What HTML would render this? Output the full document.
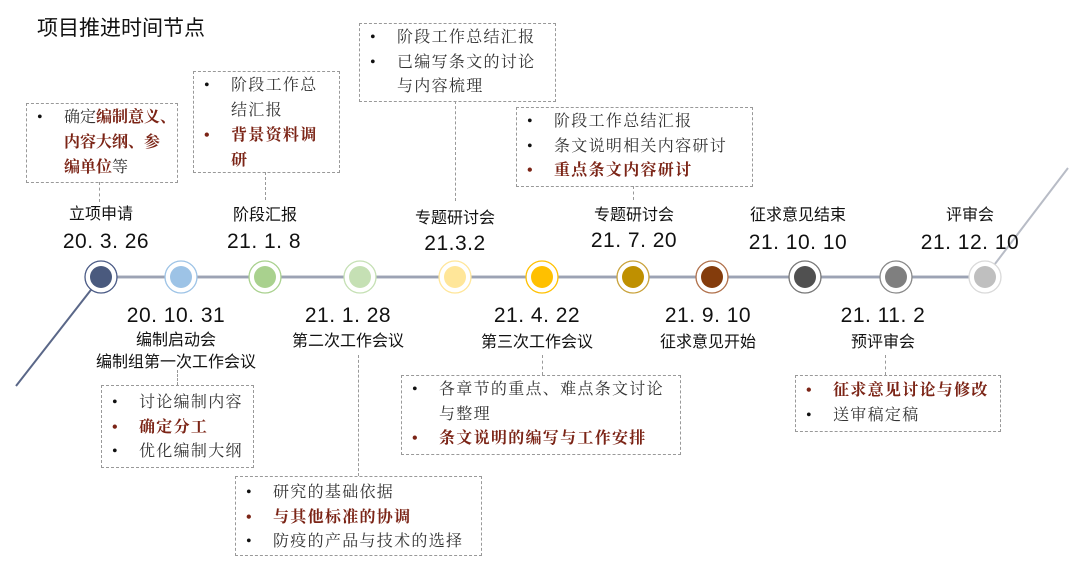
<!DOCTYPE html>
<html><head><meta charset="utf-8"><style>
body{margin:0;width:1080px;height:569px;background:#fff;position:relative;overflow:hidden;font-family:"Liberation Sans","Noto Sans CJK SC",sans-serif;color:#111}
.a{position:absolute}
.lbl{position:absolute;font-size:16px;text-align:center;width:200px;margin-left:-100px;white-space:nowrap;line-height:22px}
.dt{position:absolute;font-size:21px;text-align:center;width:200px;margin-left:-100px;white-space:nowrap;letter-spacing:0.5px}
.box{position:absolute;border:1px dashed #999;font-family:"Liberation Serif","Noto Serif CJK SC",serif;font-size:16px;letter-spacing:1.3px;line-height:24.5px;color:#333;box-sizing:border-box;padding:2px 0 0 37px;white-space:nowrap}
.box p{margin:0;position:relative}
.box p:before{content:"•";position:absolute;left:-27px;color:#111}
.box p.r{color:#7b2416;font-weight:bold}
.box p.r:before{color:#7b2416}
.r2{color:#7b2416;font-weight:bold}
.vl{position:absolute;width:0;border-left:1px dashed #999}
</style></head><body>
<div class="a" style="left:37px;top:12px;font-size:21px;">项目推进时间节点</div>

<svg class="a" style="left:0;top:0" width="1080" height="569">
<line x1="101" y1="277" x2="985" y2="277" stroke="#d3d6dd" stroke-width="4"/>
<line x1="101" y1="277" x2="985" y2="277" stroke="#8a92a6" stroke-width="1.5"/>
<line x1="101" y1="277" x2="16" y2="386" stroke="#5a6788" stroke-width="2"/>
<line x1="985" y1="277" x2="1068" y2="168" stroke="#b8bcc6" stroke-width="2"/>
<g stroke-width="1.3" fill="#fff">
<circle cx="101" cy="277" r="16" stroke="#4a5a85"/><circle cx="101" cy="277" r="11" fill="#4a5a7e" stroke="none"/>
<circle cx="181" cy="277" r="16" stroke="#9dc3e6"/><circle cx="181" cy="277" r="11" fill="#9dc3e6" stroke="none"/>
<circle cx="265" cy="277" r="16" stroke="#a9d18e"/><circle cx="265" cy="277" r="11" fill="#a9d18e" stroke="none"/>
<circle cx="360" cy="277" r="16" stroke="#c5e0b4"/><circle cx="360" cy="277" r="11" fill="#c5e0b4" stroke="none"/>
<circle cx="455" cy="277" r="16" stroke="#ffe699"/><circle cx="455" cy="277" r="11" fill="#ffe699" stroke="none"/>
<circle cx="542" cy="277" r="16" stroke="#ffc000"/><circle cx="542" cy="277" r="11" fill="#ffc000" stroke="none"/>
<circle cx="633" cy="277" r="16" stroke="#c9a23a"/><circle cx="633" cy="277" r="11" fill="#bf9000" stroke="none"/>
<circle cx="712" cy="277" r="16" stroke="#b0704a"/><circle cx="712" cy="277" r="11" fill="#843c0c" stroke="none"/>
<circle cx="805" cy="277" r="16" stroke="#777"/><circle cx="805" cy="277" r="11" fill="#505050" stroke="none"/>
<circle cx="896" cy="277" r="16" stroke="#888"/><circle cx="896" cy="277" r="11" fill="#7f7f7f" stroke="none"/>
<circle cx="985" cy="277" r="16" stroke="#d9d9d9"/><circle cx="985" cy="277" r="11" fill="#bfbfbf" stroke="none"/>
</g>
</svg>

<div class="lbl" style="left:101px;top:204px">立项申请</div><div class="dt" style="left:106px;top:230px">20. 3. 26</div>
<div class="lbl" style="left:265px;top:205px">阶段汇报</div><div class="dt" style="left:264px;top:230px">21. 1. 8</div>
<div class="lbl" style="left:455px;top:208px">专题研讨会</div><div class="dt" style="left:455px;top:232px">21.3.2</div>
<div class="lbl" style="left:634px;top:205px">专题研讨会</div><div class="dt" style="left:634px;top:229px">21. 7. 20</div>
<div class="lbl" style="left:798px;top:205px">征求意见结束</div><div class="dt" style="left:798px;top:231px">21. 10. 10</div>
<div class="lbl" style="left:970px;top:205px">评审会</div><div class="dt" style="left:970px;top:231px">21. 12. 10</div>

<div class="dt" style="left:176px;top:304px">20. 10. 31</div><div class="lbl" style="left:176px;top:330px">编制启动会<br>编制组第一次工作会议</div>
<div class="dt" style="left:348px;top:304px">21. 1. 28</div><div class="lbl" style="left:348px;top:331px">第二次工作会议</div>
<div class="dt" style="left:537px;top:304px">21. 4. 22</div><div class="lbl" style="left:537px;top:332px">第三次工作会议</div>
<div class="dt" style="left:708px;top:304px">21. 9. 10</div><div class="lbl" style="left:708px;top:332px">征求意见开始</div>
<div class="dt" style="left:883px;top:304px">21. 11. 2</div><div class="lbl" style="left:883px;top:332px">预评审会</div>

<div class="vl" style="left:99px;top:182px;height:20px"></div>
<div class="vl" style="left:265px;top:172px;height:28px"></div>
<div class="vl" style="left:455px;top:101px;height:100px"></div>
<div class="vl" style="left:633px;top:186px;height:14px"></div>
<div class="vl" style="left:177px;top:370px;height:15px"></div>
<div class="vl" style="left:358px;top:355px;height:121px"></div>
<div class="vl" style="left:542px;top:355px;height:20px"></div>
<div class="vl" style="left:885px;top:355px;height:20px"></div>

<div class="box" style="left:26px;top:103px;width:152px;height:80px;line-height:25px;padding-top:1px;letter-spacing:0">
<p>确定<span class="r2">编制意义、<br>内容大纲、参<br>编单位</span>等</p></div>
<div class="box" style="left:193px;top:71px;width:147px;height:102px;line-height:25px;padding-top:1px">
<p>阶段工作总<br>结汇报</p><p class="r">背景资料调<br>研</p></div>
<div class="box" style="left:359px;top:23px;width:197px;height:79px">
<p>阶段工作总结汇报</p><p>已编写条文的讨论<br>与内容梳理</p></div>
<div class="box" style="left:516px;top:107px;width:237px;height:80px">
<p>阶段工作总结汇报</p><p>条文说明相关内容研讨</p><p class="r">重点条文内容研讨</p></div>
<div class="box" style="left:101px;top:385px;width:153px;height:83px;padding-top:5px">
<p>讨论编制内容</p><p class="r">确定分工</p><p>优化编制大纲</p></div>
<div class="box" style="left:235px;top:476px;width:247px;height:80px;padding-top:4px">
<p>研究的基础依据</p><p class="r">与其他标准的协调</p><p>防疫的产品与技术的选择</p></div>
<div class="box" style="left:401px;top:375px;width:280px;height:80px;padding-top:2px">
<p>各章节的重点、难点条文讨论<br>与整理</p><p class="r">条文说明的编写与工作安排</p></div>
<div class="box" style="left:795px;top:375px;width:206px;height:57px;padding-top:3px">
<p class="r">征求意见讨论与修改</p><p>送审稿定稿</p></div>
</body></html>
